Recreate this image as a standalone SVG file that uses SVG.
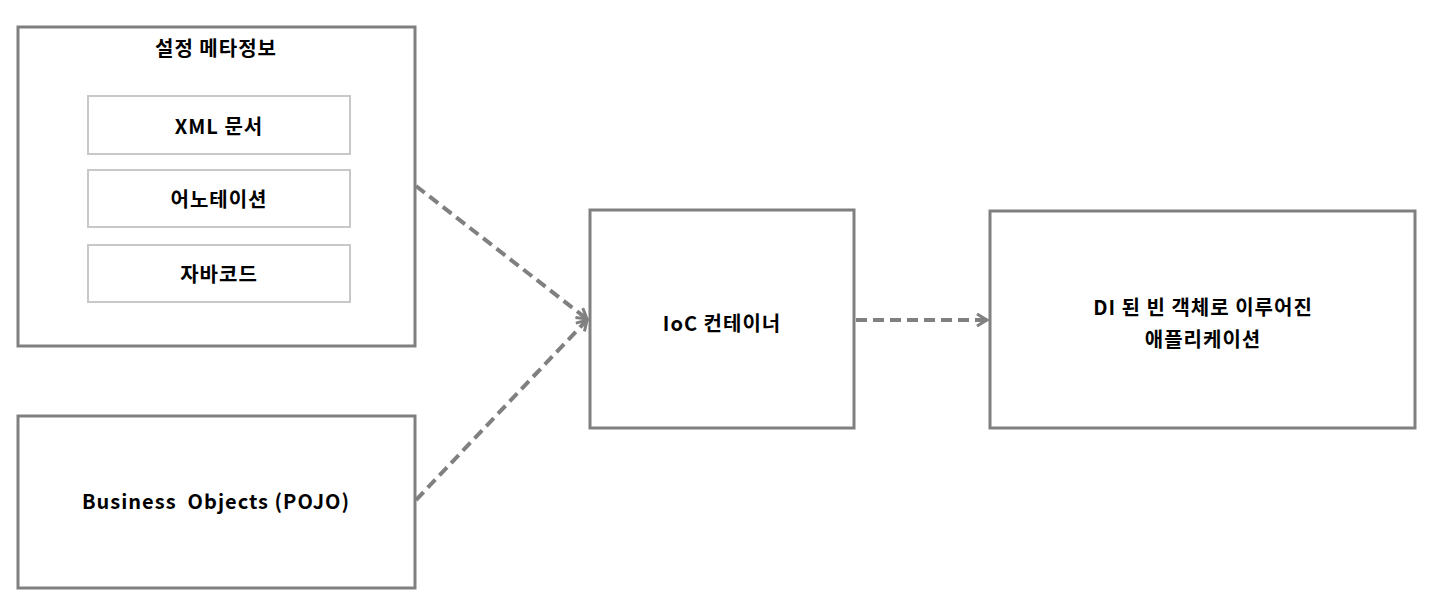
<svg xmlns="http://www.w3.org/2000/svg" width="1450" height="601" viewBox="0 0 1450 601">
<style>
.box{fill:#fff;stroke:#808080;stroke-width:3}
.inner{fill:#fff;stroke:#c8c8c8;stroke-width:2}
.t{font-family:"Noto Sans CJK KR","Noto Sans",sans-serif;font-weight:bold;font-size:20px;letter-spacing:1px;fill:#000;text-anchor:middle;dominant-baseline:central}
.conn{fill:none;stroke:#808080;stroke-width:4;stroke-dasharray:11 6}
</style>
<defs>
<marker id="arr" markerWidth="14" markerHeight="14" refX="11" refY="7" orient="auto" markerUnits="userSpaceOnUse">
<path d="M1,1 L11,7 L1,13" fill="none" stroke="#808080" stroke-width="3"/>
</marker>
</defs>
<rect width="1450" height="601" fill="#fff"/>
<g id="meta">
<rect class="box" x="18" y="27" width="397" height="319"/>
<text class="t" x="216" y="47">설정 메타정보</text>
</g>
<g id="xml">
<rect class="inner" x="88" y="96" width="262" height="58"/>
<text class="t" x="219" y="125">XML 문서</text>
</g>
<g id="anno">
<rect class="inner" x="88" y="170" width="262" height="57"/>
<text class="t" x="219" y="198">어노테이션</text>
</g>
<g id="java">
<rect class="inner" x="88" y="245" width="262" height="57"/>
<text class="t" x="219" y="273">자바코드</text>
</g>
<g id="pojo">
<rect class="box" x="18" y="416" width="397" height="172"/>
<text class="t" x="216" y="500" xml:space="preserve">Business  Objects (POJO)</text>
</g>
<g id="ioc">
<rect class="box" x="590" y="210" width="264" height="218"/>
<text class="t" x="722" y="322">IoC 컨테이너</text>
</g>
<g id="app">
<rect class="box" x="990" y="211" width="425" height="217"/>
<text class="t" x="1203" y="306">DI 된 빈 객체로 이루어진</text>
<text class="t" x="1203" y="338">애플리케이션</text>
</g>
<g id="connectors">
<path class="conn" d="M416,186 L587,319" marker-end="url(#arr)"/>
<path class="conn" d="M416,500 L587,320" marker-end="url(#arr)"/>
<path class="conn" d="M856,320 L987,320" marker-end="url(#arr)"/>
</g>
</svg>
